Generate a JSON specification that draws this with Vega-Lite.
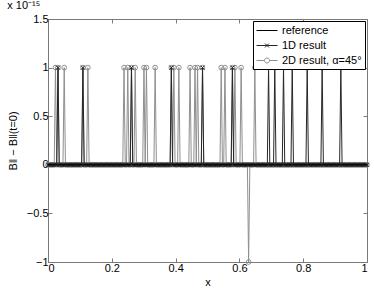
{
  "$schema": "https://vega.github.io/schema/vega-lite/v6.json",
  "width": 319,
  "height": 243,
  "autosize": "none",
  "padding": {"left": 48, "top": 19, "right": 7, "bottom": 29},
  "title": {"text": "x 10⁻¹⁵", "anchor": "start", "fontSize": 11, "fontWeight": "normal", "offset": 2, "color": "#000"},
  "datasets": {
    "ref": [{"x": 0, "key": "r", "y": 0}, {"x": 1, "key": "r", "y": 0}],
    "res": [
{"x":0,"a":0,"b":0},{"x":0.0039,"a":0,"b":0},{"x":0.0078,"a":0,"b":0},{"x":0.0117,"a":0,"b":0},
{"x":0.0156,"a":0,"b":0},{"x":0.0195,"a":0,"b":0},{"x":0.0234,"a":0,"b":1},{"x":0.0273,"a":0,"b":0},
{"x":0.0313,"a":1,"b":1},{"x":0.0352,"a":0,"b":0},{"x":0.0391,"a":0,"b":0},{"x":0.043,"a":0,"b":0},
{"x":0.0469,"a":0,"b":0},{"x":0.0508,"a":0,"b":1},{"x":0.0547,"a":0,"b":0},{"x":0.0586,"a":0,"b":0},
{"x":0.0625,"a":0,"b":0},{"x":0.0664,"a":0,"b":0},{"x":0.0703,"a":0,"b":0},{"x":0.0742,"a":0,"b":0},
{"x":0.0781,"a":0,"b":0},{"x":0.082,"a":0,"b":0},{"x":0.0859,"a":0,"b":0},{"x":0.0898,"a":0,"b":0},
{"x":0.0938,"a":0,"b":0},{"x":0.0977,"a":0,"b":0},{"x":0.1016,"a":0,"b":0},{"x":0.1055,"a":0,"b":0},
{"x":0.1094,"a":1,"b":1},{"x":0.1133,"a":0,"b":0},{"x":0.1172,"a":0,"b":0},{"x":0.1211,"a":0,"b":0},
{"x":0.125,"a":0,"b":1},{"x":0.1289,"a":0,"b":0},{"x":0.1328,"a":0,"b":0},{"x":0.1367,"a":0,"b":0},
{"x":0.1406,"a":0,"b":0},{"x":0.1445,"a":0,"b":0},{"x":0.1484,"a":0,"b":0},{"x":0.1523,"a":0,"b":0},
{"x":0.1563,"a":0,"b":0},{"x":0.1602,"a":0,"b":0},{"x":0.1641,"a":0,"b":0},{"x":0.168,"a":0,"b":0},
{"x":0.1719,"a":0,"b":0},{"x":0.1758,"a":0,"b":0},{"x":0.1797,"a":0,"b":0},{"x":0.1836,"a":0,"b":0},
{"x":0.1875,"a":0,"b":0},{"x":0.1914,"a":0,"b":0},{"x":0.1953,"a":0,"b":0},{"x":0.1992,"a":0,"b":0},
{"x":0.2031,"a":0,"b":0},{"x":0.207,"a":0,"b":0},{"x":0.2109,"a":0,"b":0},{"x":0.2148,"a":0,"b":0},
{"x":0.2188,"a":0,"b":0},{"x":0.2227,"a":0,"b":0},{"x":0.2266,"a":0,"b":0},{"x":0.2305,"a":0,"b":0},
{"x":0.2344,"a":0,"b":0},{"x":0.2383,"a":0,"b":1},{"x":0.2422,"a":0,"b":0},{"x":0.2461,"a":0,"b":0},
{"x":0.25,"a":0,"b":1},{"x":0.2539,"a":0,"b":0},{"x":0.2578,"a":0,"b":0},{"x":0.2617,"a":1,"b":1},
{"x":0.2656,"a":0,"b":0},{"x":0.2695,"a":0,"b":0},{"x":0.2734,"a":0,"b":1},{"x":0.2773,"a":0,"b":0},
{"x":0.2813,"a":0,"b":0},{"x":0.2852,"a":0,"b":0},{"x":0.2891,"a":0,"b":0},{"x":0.293,"a":0,"b":0},
{"x":0.2969,"a":0,"b":0},{"x":0.3008,"a":0,"b":1},{"x":0.3047,"a":0,"b":0},{"x":0.3086,"a":0,"b":1},
{"x":0.3125,"a":0,"b":0},{"x":0.3164,"a":0,"b":0},{"x":0.3203,"a":0,"b":0},{"x":0.3242,"a":0,"b":0},
{"x":0.3281,"a":0,"b":0},{"x":0.332,"a":0,"b":0},{"x":0.3359,"a":0,"b":1},{"x":0.3398,"a":0,"b":0},
{"x":0.3438,"a":0,"b":0},{"x":0.3477,"a":0,"b":0},{"x":0.3516,"a":0,"b":0},{"x":0.3555,"a":0,"b":0},
{"x":0.3594,"a":0,"b":0},{"x":0.3633,"a":0,"b":0},{"x":0.3672,"a":0,"b":0},{"x":0.3711,"a":0,"b":0},
{"x":0.375,"a":0,"b":0},{"x":0.3789,"a":0,"b":0},{"x":0.3828,"a":0,"b":0},{"x":0.3867,"a":1,"b":1},
{"x":0.3906,"a":0,"b":0},{"x":0.3945,"a":0,"b":1},{"x":0.3984,"a":0,"b":0},{"x":0.4023,"a":0,"b":0},
{"x":0.4063,"a":0,"b":0},{"x":0.4102,"a":0,"b":1},{"x":0.4141,"a":0,"b":0},{"x":0.418,"a":0,"b":0},
{"x":0.4219,"a":0,"b":0},{"x":0.4258,"a":0,"b":0},{"x":0.4297,"a":0,"b":0},{"x":0.4336,"a":0,"b":0},
{"x":0.4375,"a":0,"b":0},{"x":0.4414,"a":0,"b":0},{"x":0.4453,"a":0,"b":1},{"x":0.4492,"a":0,"b":0},
{"x":0.4531,"a":0,"b":0},{"x":0.457,"a":0,"b":0},{"x":0.4609,"a":0,"b":1},{"x":0.4648,"a":0,"b":0},
{"x":0.4688,"a":0,"b":1},{"x":0.4727,"a":0,"b":0},{"x":0.4766,"a":0,"b":0},{"x":0.4805,"a":0,"b":0},
{"x":0.4844,"a":1,"b":1},{"x":0.4883,"a":0,"b":0},{"x":0.4922,"a":0,"b":0},{"x":0.4961,"a":0,"b":0},
{"x":0.5,"a":0,"b":0},{"x":0.5039,"a":0,"b":0},{"x":0.5078,"a":0,"b":0},{"x":0.5117,"a":0,"b":0},
{"x":0.5156,"a":0,"b":0},{"x":0.5195,"a":0,"b":0},{"x":0.5234,"a":0,"b":0},{"x":0.5273,"a":0,"b":0},
{"x":0.5313,"a":0,"b":0},{"x":0.5352,"a":0,"b":0},{"x":0.5391,"a":0,"b":0},{"x":0.543,"a":0,"b":1},
{"x":0.5469,"a":0,"b":0},{"x":0.5508,"a":0,"b":0},{"x":0.5547,"a":0,"b":1},{"x":0.5586,"a":0,"b":0},
{"x":0.5625,"a":0,"b":0},{"x":0.5664,"a":0,"b":0},{"x":0.5703,"a":0,"b":0},{"x":0.5742,"a":0,"b":0},
{"x":0.5781,"a":1,"b":1},{"x":0.582,"a":0,"b":0},{"x":0.5859,"a":0,"b":1},{"x":0.5898,"a":0,"b":0},
{"x":0.5938,"a":0,"b":0},{"x":0.5977,"a":0,"b":0},{"x":0.6016,"a":0,"b":0},{"x":0.6055,"a":0,"b":1},
{"x":0.6094,"a":0,"b":0},{"x":0.6133,"a":0,"b":0},{"x":0.6172,"a":0,"b":0},{"x":0.6211,"a":0,"b":0},
{"x":0.625,"a":0,"b":0},{"x":0.6289,"a":0,"b":-1},{"x":0.6328,"a":0,"b":0},{"x":0.6367,"a":0,"b":0},
{"x":0.6406,"a":0,"b":0},{"x":0.6445,"a":0,"b":0},{"x":0.6484,"a":0,"b":1},{"x":0.6523,"a":0,"b":0},
{"x":0.6563,"a":0,"b":0},{"x":0.6602,"a":0,"b":0},{"x":0.6641,"a":0,"b":0},{"x":0.668,"a":0,"b":0},
{"x":0.6719,"a":0,"b":0},{"x":0.6758,"a":0,"b":0},{"x":0.6797,"a":0,"b":0},{"x":0.6836,"a":0,"b":0},
{"x":0.6875,"a":0,"b":0},{"x":0.6914,"a":1,"b":0},{"x":0.6953,"a":0,"b":0},{"x":0.6992,"a":0,"b":0},
{"x":0.7031,"a":0,"b":0},{"x":0.707,"a":0,"b":0},{"x":0.7109,"a":1,"b":0},{"x":0.7148,"a":0,"b":0},
{"x":0.7188,"a":0,"b":0},{"x":0.7227,"a":0,"b":0},{"x":0.7266,"a":0,"b":0},{"x":0.7305,"a":0,"b":0},
{"x":0.7344,"a":0,"b":0},{"x":0.7383,"a":1,"b":0},{"x":0.7422,"a":0,"b":0},{"x":0.7461,"a":0,"b":0},
{"x":0.75,"a":0,"b":0},{"x":0.7539,"a":0,"b":0},{"x":0.7578,"a":0,"b":0},{"x":0.7617,"a":0,"b":0},
{"x":0.7656,"a":1,"b":0},{"x":0.7695,"a":0,"b":0},{"x":0.7734,"a":0,"b":0},{"x":0.7773,"a":0,"b":0},
{"x":0.7813,"a":0,"b":0},{"x":0.7852,"a":0,"b":0},{"x":0.7891,"a":0,"b":0},{"x":0.793,"a":0,"b":0},
{"x":0.7969,"a":0,"b":0},{"x":0.8008,"a":0,"b":0},{"x":0.8047,"a":0,"b":0},{"x":0.8086,"a":0,"b":0},
{"x":0.8125,"a":1,"b":0},{"x":0.8164,"a":0,"b":0},{"x":0.8203,"a":0,"b":0},{"x":0.8242,"a":0,"b":0},
{"x":0.8281,"a":0,"b":0},{"x":0.832,"a":0,"b":0},{"x":0.8359,"a":0,"b":0},{"x":0.8398,"a":0,"b":0},
{"x":0.8438,"a":0,"b":0},{"x":0.8477,"a":0,"b":0},{"x":0.8516,"a":0,"b":0},{"x":0.8555,"a":0,"b":0},
{"x":0.8594,"a":1,"b":0},{"x":0.8633,"a":0,"b":0},{"x":0.8672,"a":0,"b":0},{"x":0.8711,"a":0,"b":0},
{"x":0.875,"a":0,"b":0},{"x":0.8789,"a":0,"b":0},{"x":0.8828,"a":0,"b":0},{"x":0.8867,"a":0,"b":0},
{"x":0.8906,"a":0,"b":0},{"x":0.8945,"a":0,"b":0},{"x":0.8984,"a":0,"b":0},{"x":0.9023,"a":0,"b":0},
{"x":0.9063,"a":0,"b":0},{"x":0.9102,"a":0,"b":0},{"x":0.9141,"a":0,"b":0},{"x":0.918,"a":1,"b":0},
{"x":0.9219,"a":0,"b":0},{"x":0.9258,"a":0,"b":0},{"x":0.9297,"a":0,"b":0},{"x":0.9336,"a":0,"b":0},
{"x":0.9375,"a":0,"b":0},{"x":0.9414,"a":0,"b":0},{"x":0.9453,"a":0,"b":0},{"x":0.9492,"a":0,"b":0},
{"x":0.9531,"a":0,"b":0},{"x":0.957,"a":0,"b":0},{"x":0.9609,"a":0,"b":0},{"x":0.9648,"a":0,"b":0},
{"x":0.9688,"a":0,"b":0},{"x":0.9727,"a":0,"b":0},{"x":0.9766,"a":0,"b":0},{"x":0.9805,"a":0,"b":0},
{"x":0.9844,"a":0,"b":0},{"x":0.9883,"a":0,"b":0},{"x":0.9922,"a":0,"b":0},{"x":0.9961,"a":0,"b":0},
{"x":1,"a":0,"b":0}
    ]
  },
  "data": {"name": "res"},
  "resolve": {"axis": {"x": "independent", "y": "independent"}},
  "layer": [
    {
      "transform": [{"fold": ["b"], "as": ["key", "y"]}],
      "mark": {"type": "line", "strokeWidth": 1},
      "encoding": {
        "x": {"field": "x", "type": "quantitative", "scale": {"domain": [0, 1], "nice": false, "zero": false},
              "axis": {"orient": "bottom", "values": [0, 0.2, 0.4, 0.6, 0.8, 1], "format": "~g", "title": "x", "titlePadding": 3}},
        "y": {"field": "y", "type": "quantitative", "scale": {"domain": [-1, 1.5], "nice": false, "zero": false},
              "axis": {"orient": "left", "values": [-1, -0.5, 0, 0.5, 1, 1.5], "format": "~g", "title": "B‖ − B‖(t=0)", "titlePadding": 8}},
        "color": {"field": "key", "type": "nominal",
                  "scale": {"domain": ["r", "a", "b"], "range": ["#000000", "#262626", "#8f8f8f"]},
                  "legend": {
                    "orient": "top-right", "offset": 2, "title": null,
                    "labelExpr": "datum.value === 'r' ? 'reference' : datum.value === 'a' ? '1D result' : '2D result, α=45°'",
                    "labelFontSize": 11, "labelColor": "#000", "labelOffset": 13,
                    "symbolSize": 144, "symbolStrokeWidth": 1, "rowPadding": 3,
                    "padding": 3, "strokeColor": "#000", "fillColor": "#ffffff",
                    "encode": {"symbols": {"update": {
                      "shape": {"signal": "datum.value === 'a' ? 'M-1,0H2.5M0.42,-0.33L1.08,0.33M0.42,0.33L1.08,-0.33' : datum.value === 'b' ? 'M-1,0H0.33M1.17,0H2.5M0.33,0A0.42,0.42 0 1,0 1.17,0A0.42,0.42 0 1,0 0.33,0' : 'M-1,0H2.5'"},
                      "fill": {"value": "transparent"}
                    }}}
                  }}
      }
    },
    {
      "transform": [{"fold": ["b"], "as": ["key", "y"]}],
      "mark": {"type": "point", "shape": "circle", "filled": false, "size": 22, "strokeWidth": 1, "color": "#8f8f8f", "opacity": 1},
      "encoding": {
        "x": {"field": "x", "type": "quantitative", "axis": null},
        "y": {"field": "y", "type": "quantitative", "axis": null}
      }
    },
    {
      "transform": [{"fold": ["a"], "as": ["key", "y"]}],
      "mark": {"type": "line", "strokeWidth": 1},
      "encoding": {
        "x": {"field": "x", "type": "quantitative", "axis": null},
        "y": {"field": "y", "type": "quantitative", "axis": null},
        "color": {"field": "key", "type": "nominal"}
      }
    },
    {
      "transform": [{"fold": ["a"], "as": ["key", "y"]}],
      "mark": {"type": "point", "shape": "M-1,-1L1,1M-1,1L1,-1", "filled": false, "size": 16, "strokeWidth": 1, "color": "#262626", "opacity": 1},
      "encoding": {
        "x": {"field": "x", "type": "quantitative", "axis": null},
        "y": {"field": "y", "type": "quantitative", "axis": null}
      }
    },
    {
      "data": {"name": "ref"},
      "mark": {"type": "line", "strokeWidth": 1},
      "encoding": {
        "x": {"field": "x", "type": "quantitative",
              "axis": {"orient": "top", "values": [0, 0.2, 0.4, 0.6, 0.8, 1], "labels": false, "title": null}},
        "y": {"field": "y", "type": "quantitative",
              "axis": {"orient": "right", "values": [-1, -0.5, 0, 0.5, 1, 1.5], "labels": false, "title": null}},
        "color": {"field": "key", "type": "nominal"}
      }
    }
  ],
  "config": {
    "font": "Liberation Sans",
    "background": "#ffffff",
    "view": {"stroke": "#7a7a7a", "strokeWidth": 1},
    "axis": {"grid": false, "domain": false, "tickColor": "#7a7a7a", "tickSize": -4, "labelFontSize": 11, "labelColor": "#000000",
             "titleFontSize": 11, "titleFontWeight": "normal", "titleColor": "#000000", "labelPadding": 4}
  }
}
